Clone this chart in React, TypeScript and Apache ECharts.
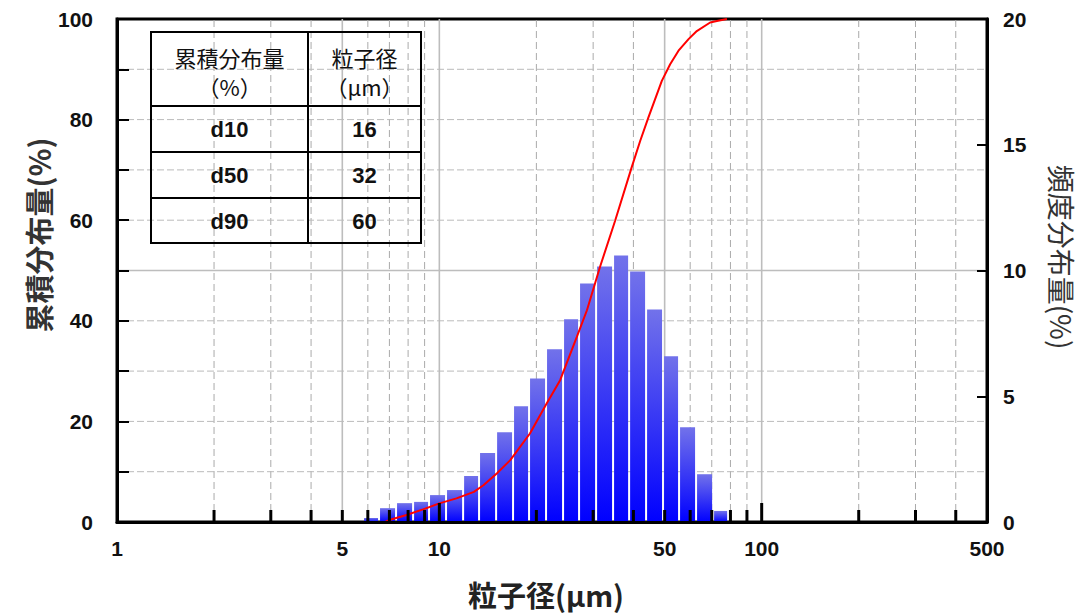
import React, { useEffect, useRef } from "react";
import * as echarts from "echarts";

// Histogram bin edges (µm) and frequency (%) per bin
const binEdges = [5.8, 6.5, 7.34, 8.29, 9.29, 10.49, 11.85, 13.28, 15.0, 16.93, 18.98, 21.43, 24.2, 27.13, 30.64, 34.59, 38.79, 43.79, 49.43, 55.42, 62.58, 70.67, 78.69];
const freq = [0.16, 0.55, 0.75, 0.8, 1.07, 1.27, 1.83, 2.74, 3.57, 4.6, 5.71, 6.87, 8.06, 9.48, 10.16, 10.6, 9.96, 8.45, 6.59, 3.77, 1.9, 0.44];

// Cumulative distribution (µm, %)
const cumX = [6.8, 7.0, 7.9, 8.9, 10.0, 11.3, 12.8, 13.7, 15.1, 16.6, 19.1, 21.5, 23.7, 26.7, 28.7, 30.6, 31.5, 35.1, 39.5, 42.0, 44.5, 49.0, 52.0, 55.2, 59.3, 62.9, 69.2, 72.6, 78.0];
const cumY = [0, 0.4, 1.4, 2.5, 3.7, 4.7, 6.0, 7.3, 9.7, 12.3, 17.6, 23.5, 28.2, 36.8, 42.1, 48.0, 50.7, 59.9, 70.5, 75.8, 80.4, 87.7, 91.0, 93.7, 96.0, 97.6, 99.3, 99.6, 100];

// Axis tick / label values
const xLabelValues = [1, 5, 10, 50, 100, 500];
const xTickValues = [2, 3, 4, 5, 6, 7, 8, 9, 10, 20, 30, 40, 50, 60, 70, 80, 90, 100, 200, 300, 400];
const xTallTicks = [10, 100];
const xSolidGrid = [5, 10, 50, 100];
const yGridValues = [10, 20, 30, 40, 50, 60, 70, 80, 90];
const ySolidGrid = [50];

// Table
const tableHeader = [["累積分布量", "（%）"], ["粒子径", "（μm）"]];
const tableRows = [["d10", "16"], ["d50", "32"], ["d90", "60"]];

const NUM_FONT = '"Liberation Sans", Arial, sans-serif';
const CJK_FONT = '"Noto Sans CJK JP", "Noto Sans", sans-serif';

export default function App() {
  const ref = useRef<HTMLDivElement>(null);
  useEffect(() => {
    document.body.style.margin = "0";
    const chart = echarts.init(ref.current!, null, { renderer: "svg" });

    const barFill = new echarts.graphic.LinearGradient(0, 0, 0, 1, [
      { offset: 0, color: "#7272ea" },
      { offset: 1, color: "#0000ff" },
    ]);

    const bars = freq.map((f, i) => [binEdges[i], binEdges[i + 1], f]);

    // table geometry
    const tx = 151, ty = 32, tw = 270, th = 211, colX = 308;
    const rowLines = [106, 152, 198];
    const rowCenters = [129, 175, 221];
    const graphics: any[] = [
      { type: "rect", shape: { x: tx, y: ty, width: tw, height: th }, style: { fill: "none", stroke: "#000", lineWidth: 2 }, z: 100 },
      { type: "line", shape: { x1: colX, y1: ty, x2: colX, y2: ty + th }, style: { stroke: "#000", lineWidth: 2 }, z: 100 },
      ...rowLines.map((y) => ({ type: "line", shape: { x1: tx, y1: y, x2: tx + tw, y2: y }, style: { stroke: "#000", lineWidth: 2 }, z: 100 })),
    ];
    const colCenters = [(tx + colX) / 2, (colX + tx + tw) / 2];
    tableHeader.forEach((lines, c) => {
      lines.forEach((t, k) => {
        graphics.push({
          type: "text", x: colCenters[c], y: k === 0 ? 57 : 86, z: 100,
          style: { text: t, font: `22px ${CJK_FONT}`, fill: "#111", textAlign: "center", textVerticalAlign: "middle" },
        });
      });
    });
    tableRows.forEach((row, r) => {
      row.forEach((t, c) => {
        graphics.push({
          type: "text", x: colCenters[c], y: rowCenters[r], z: 100,
          style: { text: t, font: `bold 22px ${NUM_FONT}`, fill: "#111", textAlign: "center", textVerticalAlign: "middle" },
        });
      });
    });
    // axis titles
    graphics.push(
      { type: "text", x: 38, y: 235, rotation: Math.PI / 2, z: 100,
        style: { text: "累積分布量(%)", font: `bold 29px ${CJK_FONT}`, fill: "#333", textAlign: "center", textVerticalAlign: "middle" } },
      { type: "text", x: 1062, y: 257, rotation: -Math.PI / 2, z: 100,
        style: { text: "頻度分布量(%)", font: `28px ${CJK_FONT}`, fill: "#333", textAlign: "center", textVerticalAlign: "middle" } },
      { type: "text", x: 546, y: 594, z: 100,
        style: { text: "粒子径(μm)", font: `bold 29px ${CJK_FONT}`, fill: "#222", textAlign: "center", textVerticalAlign: "middle" } },
    );

    const option: any = {
      animation: false,
      backgroundColor: "#fff",
      grid: { left: 117, right: 96, top: 19, bottom: 92, show: true, borderColor: "#000", borderWidth: 3, backgroundColor: "transparent" },
      xAxis: {
        type: "log", logBase: 10, min: 1, max: 500, z: 6,
        axisLine: { show: true, lineStyle: { color: "#000", width: 3 } },
        axisTick: { show: false },
        splitLine: { show: false },
        minorSplitLine: { show: false },
        axisLabel: {
          customValues: xLabelValues, margin: 16,
          color: "#111", fontFamily: NUM_FONT, fontWeight: "bold", fontSize: 21,
          formatter: (v: number) => String(Math.round(v)),
        },
      },
      yAxis: [
        {
          type: "value", min: 0, max: 100, interval: 10, z: 6,
          axisLine: { show: true, lineStyle: { color: "#000", width: 3 } },
          axisTick: { show: true, inside: true, length: 12, lineStyle: { color: "#000", width: 2 } },
          splitLine: { show: false },
          axisLabel: {
            margin: 24, color: "#111", fontFamily: NUM_FONT, fontWeight: "bold", fontSize: 21,
            formatter: (v: number) => (v % 20 === 0 ? String(v) : ""),
          },
        },
        {
          type: "value", min: 0, max: 20, interval: 5, position: "right", z: 6,
          axisLine: { show: true, lineStyle: { color: "#000", width: 3 } },
          axisTick: { show: true, inside: true, length: 10, lineStyle: { color: "#000", width: 2 } },
          splitLine: { show: false },
          axisLabel: { margin: 16, color: "#111", fontFamily: NUM_FONT, fontWeight: "bold", fontSize: 21 },
        },
      ],
      graphic: graphics,
      series: [
        {
          type: "custom", name: "vgrid", z: 1, silent: true,
          data: xTickValues.map((v) => [v, 0]),
          encode: { x: 0, y: 1 },
          renderItem: (params: any, api: any) => {
            const v = api.value(0);
            const a = api.coord([v, 0]);
            const b = api.coord([v, 100]);
            const solid = xSolidGrid.indexOf(v) >= 0;
            return {
              type: "line",
              shape: { x1: a[0], y1: a[1], x2: b[0], y2: b[1] },
              style: solid ? { stroke: "#bdbdbd", lineWidth: 1.6 } : { stroke: "#aaaaaa", lineWidth: 1, lineDash: [7, 4] },
            };
          },
        },
        {
          type: "custom", name: "hgrid", z: 1, silent: true,
          data: yGridValues.map((v) => [1, v]),
          encode: { x: 0, y: 1 },
          renderItem: (params: any, api: any) => {
            const v = api.value(1);
            const a = api.coord([1, v]);
            const b = api.coord([500, v]);
            const solid = ySolidGrid.indexOf(v) >= 0;
            return {
              type: "line",
              shape: { x1: a[0], y1: a[1], x2: b[0], y2: b[1] },
              style: solid ? { stroke: "#bdbdbd", lineWidth: 1.6 } : { stroke: "#bbbbbb", lineWidth: 1, lineDash: [7, 3] },
            };
          },
        },
        {
          type: "custom", name: "頻度分布量", yAxisIndex: 1, z: 2,
          data: bars,
          encode: { x: [0, 1], y: 2 },
          renderItem: (params: any, api: any) => {
            const p0 = api.coord([api.value(0), 0]);
            const p1 = api.coord([api.value(1), api.value(2)]);
            return {
              type: "rect",
              shape: { x: p0[0] + 1, y: p1[1], width: p1[0] - p0[0] - 2, height: p0[1] - p1[1] },
              style: { fill: barFill },
            };
          },
        },
        {
          type: "line", name: "累積分布量", yAxisIndex: 0, z: 4,
          data: cumX.map((x, i) => [x, cumY[i]]),
          showSymbol: false, symbol: "none",
          lineStyle: { color: "#ff0000", width: 2 },
        },
        {
          type: "custom", name: "xticks", z: 7, silent: true,
          data: xTickValues.map((v) => [v, 0]),
          encode: { x: 0, y: 1 },
          renderItem: (params: any, api: any) => {
            const v = api.value(0);
            const a = api.coord([v, 0]);
            const len = xTallTicks.indexOf(v) >= 0 ? 19 : 12;
            return {
              type: "line",
              shape: { x1: a[0], y1: a[1], x2: a[0], y2: a[1] - len },
              style: { stroke: "#000", lineWidth: 3 },
            };
          },
        },
      ],
    };
    chart.setOption(option);
    return () => chart.dispose();
  }, []);
  return <div ref={ref} style={{ width: 1083, height: 614 }} />;
}
